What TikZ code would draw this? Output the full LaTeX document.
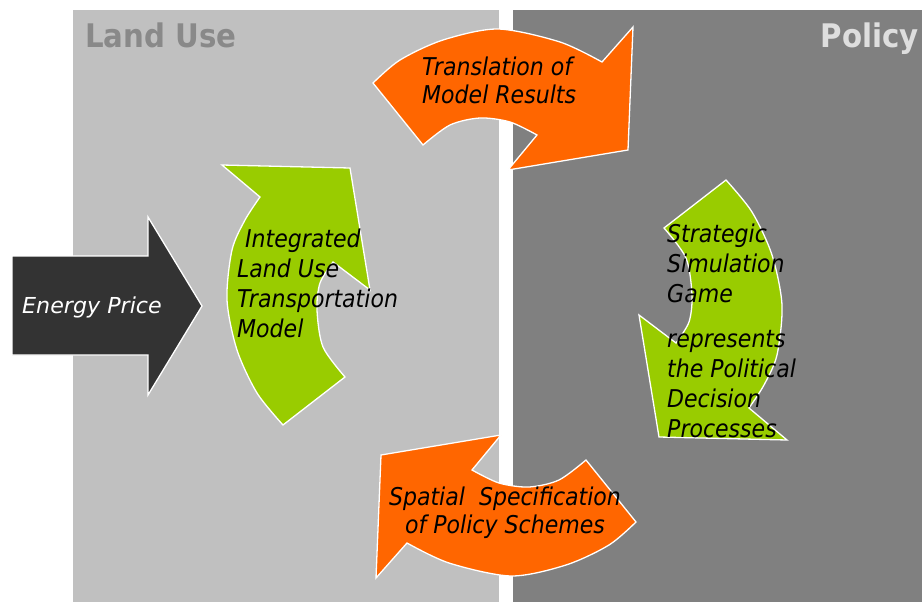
\documentclass[tikz,border=0pt]{standalone}
\usepackage{fontspec}
\setmainfont{DejaVu Sans}[FakeStretch=0.9]

\definecolor{landbg}{HTML}{C0C0C0}
\definecolor{policybg}{HTML}{808080}
\definecolor{loopgreen}{HTML}{99CC00}
\definecolor{looporange}{HTML}{FF6600}
\definecolor{energydark}{HTML}{333333}
\definecolor{landtitle}{HTML}{898989}
\definecolor{policytitle}{HTML}{DEDEDE}

\tikzset{
  bentshape/.style={draw=white, line width=1.3pt, line join=miter},
  paneltitle/.style={inner sep=0pt, font=\fontsize{32.5}{38}\selectfont\bfseries},
  looplabel/.style={inner sep=0pt, font=\fontsize{24.5}{30}\selectfont\itshape},
  % curved green arrow rising on the left, head pointing up-right
  pics/greenbend/.style={code={
    \filldraw[bentshape, fill=loopgreen]
      (283,425) -- plot[smooth] coordinates {(283,425) (257,393) (237,350) (227,300) (232,250) (245,220) (260,197)}
      -- (222,165) -- (350,168) -- (370,290) -- (333,262)
      -- plot[smooth] coordinates {(333,262) (320,283) (317,310) (323,347) (345,377)}
      -- cycle;
  }},
  % curved orange arrow across the top, head pointing down-right
  pics/orangebend/.style={code={
    \filldraw[bentshape, fill=looporange]
      (373,83) -- plot[smooth] coordinates {(373,83) (400,60) (443,40) (498,29) (560,42) (602,62)}
      -- (633,27) -- (628,150) -- (508,170) -- (537,135)
      -- plot[smooth] coordinates {(537,135) (510,122) (480,118) (450,125) (423,145)}
      -- cycle;
  }}
}

\begin{document}
\begin{tikzpicture}[x=1pt,y=-1pt]
  \useasboundingbox (0,0) rectangle (922,602);
  \fill[white] (0,0) rectangle (922,602);

  % the two domains
  \fill[landbg] (73,10) rectangle (499,602);
  \fill[policybg] (513,10) rectangle (922,602);

  \node[paneltitle, text=landtitle, anchor=base west] (landuse) at (85,48) {Land Use};
  \node[paneltitle, text=policytitle, anchor=base east] (policy) at (919,48) {Policy};

  % exogenous input
  \filldraw[draw=white, line width=1.3pt, fill=energydark]
    (12,256) -- (148,256) -- (148,217) -- (202,306) -- (148,395) -- (148,355) -- (12,355) -- cycle;
  \node[inner sep=0pt, anchor=base west, text=white, font=\fontsize{22}{26}\selectfont\itshape]
    (energy) at (22,313) {\scalebox{1.12}[1]{Energy Price}};

  % the feedback loop
  \pic {greenbend};
  \pic[rotate around={180:(504.5,302.5)}] {greenbend};
  \pic {orangebend};
  \pic[rotate around={180:(504.5,302.5)}] {orangebend};

  % labels (multi-line nodes are placed by the baseline of their last line)
  \node[looplabel, anchor=base west, align=left, font=\fontsize{24.5}{28}\selectfont\itshape]
    (translation) at (422,103) {Translation of\\Model Results};
  \node[looplabel, anchor=base west, align=left]
    (model) at (237,337) {\hspace{8pt}Integrated\\Land Use\\Transportation\\Model};
  \node[looplabel, anchor=base west, align=left]
    (game) at (667,437) {Strategic\\Simulation\\Game\\[15pt]represents\\the Political\\Decision\\Processes};
  \node[looplabel, anchor=base, align=center, font=\fontsize{24.5}{28}\selectfont\itshape]
    (spatial) at (505,533) {Spatial\ \ Specification\\of Policy Schemes};
\end{tikzpicture}
\end{document}
